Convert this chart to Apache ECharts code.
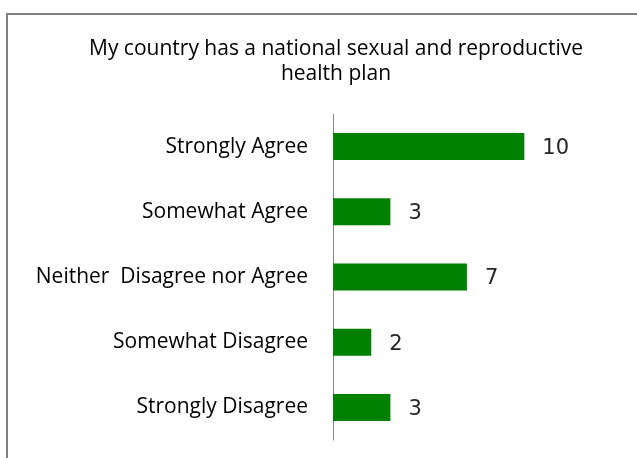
<!DOCTYPE html>
<html>
<head>
<meta charset="utf-8">
<script src="https://cdn.jsdelivr.net/npm/echarts@6/dist/echarts.min.js"></script>
<style>
  html, body { margin: 0; padding: 0; background: #fff; }
  #chart { width: 637px; height: 458px; }
</style>
</head>
<body>
<div id="chart"></div>
<script>
// Survey responses, listed top to bottom
const categories = [
  'Strongly Agree',
  'Somewhat Agree',
  'Neither  Disagree nor Agree',
  'Somewhat Disagree',
  'Strongly Disagree'
];
const responses = [10, 3, 7, 2, 3];
const chartTitle = 'My country has a national sexual and reproductive\nhealth plan';

const chart = echarts.init(document.getElementById('chart'));
chart.setOption({
  animation: false,
  backgroundColor: '#fff',
  title: {
    text: chartTitle,
    left: 331,
    textAlign: 'center',
    top: 32,
    textStyle: {
      fontFamily: 'Open Sans',
      fontSize: 21,
      fontWeight: 'normal',
      color: '#000',
      lineHeight: 25
    }
  },
  graphic: [{
    type: 'rect',
    shape: { x: 7, y: 14, width: 640, height: 460 },
    style: { fill: 'none', stroke: '#7f7f7f', lineWidth: 2 },
    silent: true
  }],
  grid: { left: 333, top: 114, width: 287, height: 326 },
  xAxis: {
    type: 'value',
    min: 0,
    max: 15,
    show: false
  },
  yAxis: {
    type: 'category',
    data: categories,
    inverse: true,
    axisLine: { show: true, lineStyle: { color: '#868686', width: 1 } },
    axisTick: { show: false },
    axisLabel: {
      margin: 25,
      fontFamily: 'Open Sans',
      fontSize: 21,
      color: '#000',
      padding: [2, 0, 0, 0]
    }
  },
  series: [{
    type: 'bar',
    data: responses,
    barWidth: 27,
    itemStyle: { color: '#008000' },
    label: {
      show: true,
      position: 'right',
      distance: 18,
      offset: [0, 2],
      fontFamily: 'DejaVu Sans',
      fontSize: 21,
      color: '#262626'
    }
  }]
});
</script>
</body>
</html>
